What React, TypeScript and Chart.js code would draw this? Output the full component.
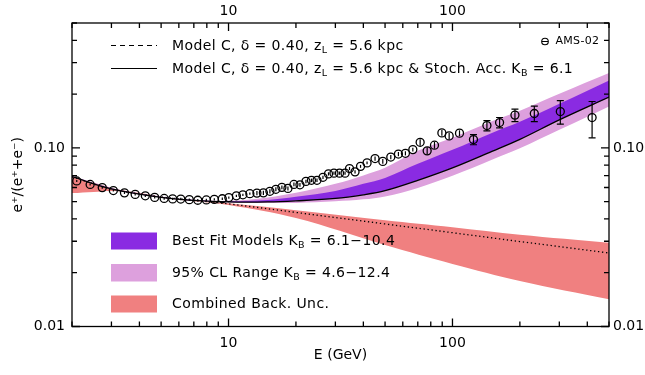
import React, { useEffect, useRef } from 'react';
import { Chart, registerables } from 'chart.js';

Chart.register(...registerables);

const FONT = '"DejaVu Sans", sans-serif';

// ---------- AMS-02 positron fraction ----------
const amsEnergy = [2.10, 2.41, 2.73, 3.06, 3.43, 3.83, 4.25, 4.68, 5.16, 5.63, 6.12, 6.68, 7.29, 7.96, 8.64, 9.38, 10.03, 10.84, 11.59, 12.45, 13.39, 14.31, 15.30, 16.27, 17.31, 18.42, 19.59, 20.84, 22.17, 23.46, 24.83, 26.41, 27.95, 29.57, 31.30, 33.13, 34.69, 36.72, 38.86, 41.55, 45.11, 48.85, 53.04, 57.36, 61.64, 66.53, 71.72, 77.09, 83.11, 89.68, 96.65, 107.5, 124.1, 142.5, 162.3, 190.1, 232.0, 303.1, 420.2];
const amsFraction = [0.0653, 0.0624, 0.0599, 0.0577, 0.0560, 0.0549, 0.0539, 0.0528, 0.0521, 0.0518, 0.0517, 0.0513, 0.0509, 0.0511, 0.0515, 0.0519, 0.0527, 0.0539, 0.0546, 0.0554, 0.0558, 0.0560, 0.0571, 0.0586, 0.0601, 0.0593, 0.0624, 0.0621, 0.0649, 0.0658, 0.0658, 0.0684, 0.0715, 0.0722, 0.0722, 0.0722, 0.0766, 0.0734, 0.0788, 0.0824, 0.0871, 0.0840, 0.0888, 0.0923, 0.0932, 0.0978, 0.1074, 0.0962, 0.1035, 0.1213, 0.1167, 0.1209, 0.1113, 0.1333, 0.1386, 0.1525, 0.1557, 0.1597, 0.1478];
const amsError = [0.0008, 0.0008, 0.0008, 0.0008, 0.0008, 0.0008, 0.0008, 0.0008, 0.0008, 0.0008, 0.0008, 0.0008, 0.0008, 0.0008, 0.0008, 0.0008, 0.0008, 0.0008, 0.0008, 0.0008, 0.0015, 0.0015, 0.0015, 0.0015, 0.0015, 0.0015, 0.0015, 0.0015, 0.0015, 0.0015, 0.0015, 0.0015, 0.0015, 0.0015, 0.0015, 0.0015, 0.0015, 0.0015, 0.0015, 0.0015, 0.0025, 0.0025, 0.0025, 0.0025, 0.0025, 0.0025, 0.0045, 0.0045, 0.0045, 0.0045, 0.0045, 0.0045, 0.0072, 0.0089, 0.0093, 0.0122, 0.0156, 0.024, 0.034];

// ---------- Model curves ----------
const modelEnergy = [2, 3, 5, 7, 10, 15, 20, 30, 40, 50, 70, 100, 150, 200, 300, 500];
const stochAccLine = [0.0691, 0.0589, 0.0528, 0.0508, 0.0498, 0.0498, 0.0505, 0.0521, 0.0546, 0.0576, 0.0658, 0.0773, 0.0956, 0.1116, 0.1435, 0.1923];
const bestFitUpper = [0.0694, 0.0593, 0.0531, 0.0510, 0.0502, 0.0511, 0.0532, 0.0574, 0.0629, 0.0679, 0.0814, 0.0975, 0.1213, 0.1398, 0.1764, 0.2382];
const clUpper = [0.0697, 0.0597, 0.0534, 0.0512, 0.0505, 0.0528, 0.0560, 0.0629, 0.0701, 0.0773, 0.0962, 0.1138, 0.1407, 0.1612, 0.2007, 0.2621];
const clLower = [0.0688, 0.0587, 0.0526, 0.0506, 0.0495, 0.0492, 0.0492, 0.0502, 0.0515, 0.0535, 0.0597, 0.0697, 0.0857, 0.0994, 0.1261, 0.1703];

const bgEnergy = [2, 2.5, 3, 3.5, 4, 5, 7, 10, 20, 50, 100, 200, 500];
const bgUpper = [0.0692, 0.0637, 0.0597, 0.0574, 0.0560, 0.0532, 0.0505, 0.0489, 0.0447, 0.0393, 0.0359, 0.0326, 0.0294];
const bgLower = [0.0558, 0.0567, 0.0574, 0.0567, 0.0553, 0.0528, 0.0502, 0.0479, 0.0405, 0.0286, 0.0224, 0.0180, 0.0142];

const bgLineEnergy = [2, 3, 5, 10, 20, 50, 100, 200, 500];
const bgLine = [0.0688, 0.0589, 0.0532, 0.0486, 0.0435, 0.0375, 0.0335, 0.0299, 0.0258];

// ---------- Axes ----------
const xTickValues = [10, 100];
const xTickLabels = ['10', '100'];
const yTickValues = [0.01, 0.1];
const yTickLabels = ['0.01', '0.10'];

// ---------- Colours ----------
const PURPLE = '#8A2BE2';
const PINK = '#DDA0DD';
const RED = '#F08080';

const toPts = (xs: number[], ys: number[]) => xs.map((x, i) => ({ x, y: ys[i] }));

type Seg = { t: string; sub?: boolean };

function drawRich(ctx: CanvasRenderingContext2D, x: number, y: number, segs: Seg[], size: number) {
  let cx = x;
  for (const s of segs) {
    const fs = s.sub ? size * 0.68 : size;
    ctx.font = `${fs}px ${FONT}`;
    const dy = s.sub ? size * 0.32 : 0;
    ctx.fillText(s.t, cx, y + dy);
    cx += ctx.measureText(s.t).width;
  }
}

const legendLine1: Seg[] = [{ t: 'Model C, δ = 0.40, z' }, { t: 'L', sub: true }, { t: ' = 5.6 kpc' }];
const legendLine2: Seg[] = [{ t: 'Model C, δ = 0.40, z' }, { t: 'L', sub: true }, { t: ' = 5.6 kpc & Stoch. Acc. K' }, { t: 'B', sub: true }, { t: ' = 6.1' }];
const legendBest: Seg[] = [{ t: 'Best Fit Models K' }, { t: 'B', sub: true }, { t: ' = 6.1−10.4' }];
const legendCL: Seg[] = [{ t: '95% CL Range K' }, { t: 'B', sub: true }, { t: ' = 4.6−12.4' }];
const legendBack: Seg[] = [{ t: 'Combined Back. Unc.' }];

const decorPlugin = {
  id: 'decor',
  afterDatasetsDraw(chart: any) {
    const { ctx, scales } = chart;
    const xs = scales.x;
    const ys = scales.y;
    ctx.save();
    ctx.strokeStyle = '#000';
    ctx.lineWidth = 1.2;
    amsEnergy.forEach((e, i) => {
      const px = xs.getPixelForValue(e);
      const yTop = ys.getPixelForValue(amsFraction[i] + amsError[i]);
      const yBot = ys.getPixelForValue(amsFraction[i] - amsError[i]);
      ctx.beginPath();
      ctx.moveTo(px, yTop);
      ctx.lineTo(px, yBot);
      ctx.stroke();
      if (yBot - yTop > 9) {
        ctx.beginPath();
        ctx.moveTo(px - 3.5, yTop);
        ctx.lineTo(px + 3.5, yTop);
        ctx.moveTo(px - 3.5, yBot);
        ctx.lineTo(px + 3.5, yBot);
        ctx.stroke();
      }
    });
    ctx.restore();
  },
  afterDraw(chart: any) {
    const { ctx, chartArea: a, scales } = chart;
    const xs = scales.x;
    const ys = scales.y;
    ctx.save();
    // frame
    ctx.strokeStyle = '#000';
    ctx.lineWidth = 1.3;
    ctx.strokeRect(a.left, a.top, a.right - a.left, a.bottom - a.top);
    // ticks
    ctx.beginPath();
    for (const d of [1, 10, 100]) {
      for (let m = 1; m < 10; m++) {
        const v = m * d;
        if (v < 2 || v > 500) continue;
        const len = m === 1 ? 8 : 5;
        const px = xs.getPixelForValue(v);
        ctx.moveTo(px, a.bottom);
        ctx.lineTo(px, a.bottom - len);
        ctx.moveTo(px, a.top);
        ctx.lineTo(px, a.top + len);
      }
    }
    for (const d of [0.01, 0.1]) {
      for (let m = 1; m < 10; m++) {
        const v = m * d;
        if (v < 0.0099 || v > 0.501) continue;
        const len = m === 1 ? 8 : 5;
        const py = ys.getPixelForValue(v);
        ctx.moveTo(a.left, py);
        ctx.lineTo(a.left + len, py);
        ctx.moveTo(a.right, py);
        ctx.lineTo(a.right - len, py);
      }
    }
    ctx.stroke();

    // legend
    ctx.fillStyle = '#000';
    ctx.textBaseline = 'middle';
    ctx.textAlign = 'left';
    (ctx as any).letterSpacing = '0.4px';
    // line samples
    ctx.lineWidth = 1.2;
    ctx.setLineDash([5, 4]);
    ctx.beginPath();
    ctx.moveTo(111, 45.5);
    ctx.lineTo(157, 45.5);
    ctx.stroke();
    ctx.setLineDash([]);
    ctx.beginPath();
    ctx.moveTo(111, 68.5);
    ctx.lineTo(157, 68.5);
    ctx.stroke();
    drawRich(ctx, 172, 46, legendLine1, 14);
    drawRich(ctx, 172, 69, legendLine2, 14);

    // boxes
    ctx.fillStyle = PURPLE;
    ctx.fillRect(111, 232.5, 46, 17);
    ctx.fillStyle = PINK;
    ctx.fillRect(111, 264, 46, 17.5);
    ctx.fillStyle = RED;
    ctx.fillRect(111, 295.5, 46, 17);
    ctx.fillStyle = '#000';
    drawRich(ctx, 172, 241, legendBest, 14);
    drawRich(ctx, 172, 273, legendCL, 14);
    drawRich(ctx, 172, 304.5, legendBack, 14);

    // AMS-02 key
    ctx.lineWidth = 1.1;
    ctx.beginPath();
    ctx.arc(545, 41.5, 3.3, 0, Math.PI * 2);
    ctx.moveTo(541.7, 41.5);
    ctx.lineTo(548.3, 41.5);
    ctx.stroke();
    (ctx as any).letterSpacing = '0.3px';
    ctx.font = `11px ${FONT}`;
    ctx.fillText('AMS-02', 555.5, 41.5);
    ctx.restore();
  },
};

export default function App() {
  const ref = useRef<HTMLCanvasElement | null>(null);

  useEffect(() => {
    if (!ref.current) return;
    Chart.defaults.font.family = FONT;
    const tickFont = { family: FONT, size: 14 };
    const lineBase = { pointRadius: 0, pointHoverRadius: 0, tension: 0.35 };

    const chart = new Chart(ref.current, {
      type: 'line',
      data: {
        datasets: [
          {
            type: 'scatter',
            label: 'AMS-02',
            data: toPts(amsEnergy, amsFraction),
            pointStyle: 'circle',
            pointRadius: 4,
            pointBorderWidth: 1.3,
            pointBorderColor: '#000',
            pointBackgroundColor: 'rgba(255,255,255,0)',
            showLine: false,
          } as any,
          {
            label: 'Model C + Stoch. Acc.',
            data: toPts(modelEnergy, stochAccLine),
            borderColor: '#000',
            borderWidth: 1.3,
            fill: false,
            ...lineBase,
          },
          {
            label: 'Model C',
            data: toPts(bgLineEnergy, bgLine),
            borderColor: '#000',
            borderWidth: 1.3,
            borderDash: [1.3, 2.7],
            fill: false,
            ...lineBase,
          },
          {
            label: 'Best fit upper',
            data: toPts(modelEnergy, bestFitUpper),
            borderColor: 'rgba(0,0,0,0)',
            borderWidth: 0,
            backgroundColor: PURPLE,
            fill: 1,
            ...lineBase,
          },
          {
            label: '95% CL upper',
            data: toPts(modelEnergy, clUpper),
            borderColor: 'rgba(0,0,0,0)',
            borderWidth: 0,
            backgroundColor: PINK,
            fill: 5,
            ...lineBase,
          },
          {
            label: '95% CL lower',
            data: toPts(modelEnergy, clLower),
            borderColor: 'rgba(0,0,0,0)',
            borderWidth: 0,
            fill: false,
            ...lineBase,
          },
          {
            label: 'Back upper',
            data: toPts(bgEnergy, bgUpper),
            borderColor: 'rgba(0,0,0,0)',
            borderWidth: 0,
            backgroundColor: RED,
            fill: 7,
            ...lineBase,
          },
          {
            label: 'Back lower',
            data: toPts(bgEnergy, bgLower),
            borderColor: 'rgba(0,0,0,0)',
            borderWidth: 0,
            fill: false,
            ...lineBase,
          },
        ],
      },
      options: {
        responsive: false,
        animation: false,
        devicePixelRatio: 1,
        layout: { padding: 0 },
        plugins: {
          legend: { display: false },
          tooltip: { enabled: false },
        },
        scales: {
          x: {
            type: 'logarithmic',
            position: 'bottom',
            min: 2,
            max: 500,
            grid: { display: false, drawTicks: false },
            border: { display: false },
            afterBuildTicks: (axis: any) => {
              axis.ticks = xTickValues.map((v) => ({ value: v }));
            },
            afterFit: (s: any) => {
              s.height = 48.5;
            },
            ticks: {
              autoSkip: false,
              maxRotation: 0,
              padding: 8,
              color: '#000',
              font: tickFont,
              callback: (_v: any, i: number) => xTickLabels[i],
            },
            title: {
              display: true,
              text: 'E (GeV)',
              color: '#000',
              font: { family: FONT, size: 14 },
              padding: { top: 0, bottom: 11 },
            },
          },
          x2: {
            type: 'logarithmic',
            position: 'top',
            display: true,
            min: 2,
            max: 500,
            grid: { display: false, drawTicks: false },
            border: { display: false },
            afterBuildTicks: (axis: any) => {
              axis.ticks = xTickValues.map((v) => ({ value: v }));
            },
            afterFit: (s: any) => {
              s.height = 23;
            },
            ticks: {
              autoSkip: false,
              maxRotation: 0,
              padding: 3,
              color: '#000',
              font: tickFont,
              callback: (_v: any, i: number) => xTickLabels[i],
            },
          },
          y: {
            type: 'logarithmic',
            position: 'left',
            min: 0.01,
            max: 0.5,
            grid: { display: false, drawTicks: false },
            border: { display: false },
            afterBuildTicks: (axis: any) => {
              axis.ticks = yTickValues.map((v) => ({ value: v }));
            },
            afterFit: (s: any) => {
              s.width = 72;
            },
            ticks: {
              autoSkip: false,
              padding: 7,
              color: '#000',
              font: tickFont,
              callback: (_v: any, i: number) => yTickLabels[i],
            },
            title: {
              display: true,
              text: 'e⁺/(e⁺+e⁻)',
              color: '#000',
              font: { family: FONT, size: 14 },
              padding: { top: 10, bottom: 0 },
            },
          },
          y2: {
            type: 'logarithmic',
            position: 'right',
            display: true,
            min: 0.01,
            max: 0.5,
            grid: { display: false, drawTicks: false },
            border: { display: false },
            afterBuildTicks: (axis: any) => {
              axis.ticks = yTickValues.map((v) => ({ value: v }));
            },
            afterFit: (s: any) => {
              s.width = 36;
            },
            ticks: {
              autoSkip: false,
              padding: 4,
              color: '#000',
              font: tickFont,
              callback: (_v: any, i: number) => yTickLabels[i],
            },
          },
        },
      } as any,
      plugins: [decorPlugin],
    });
    return () => chart.destroy();
  }, []);

  return (
    <div style={{ position: 'fixed', left: 0, top: 0, width: 645, height: 375, background: '#fff' }}>
      <canvas ref={ref} width={645} height={375} style={{ width: 645, height: 375, display: 'block' }} />
    </div>
  );
}
